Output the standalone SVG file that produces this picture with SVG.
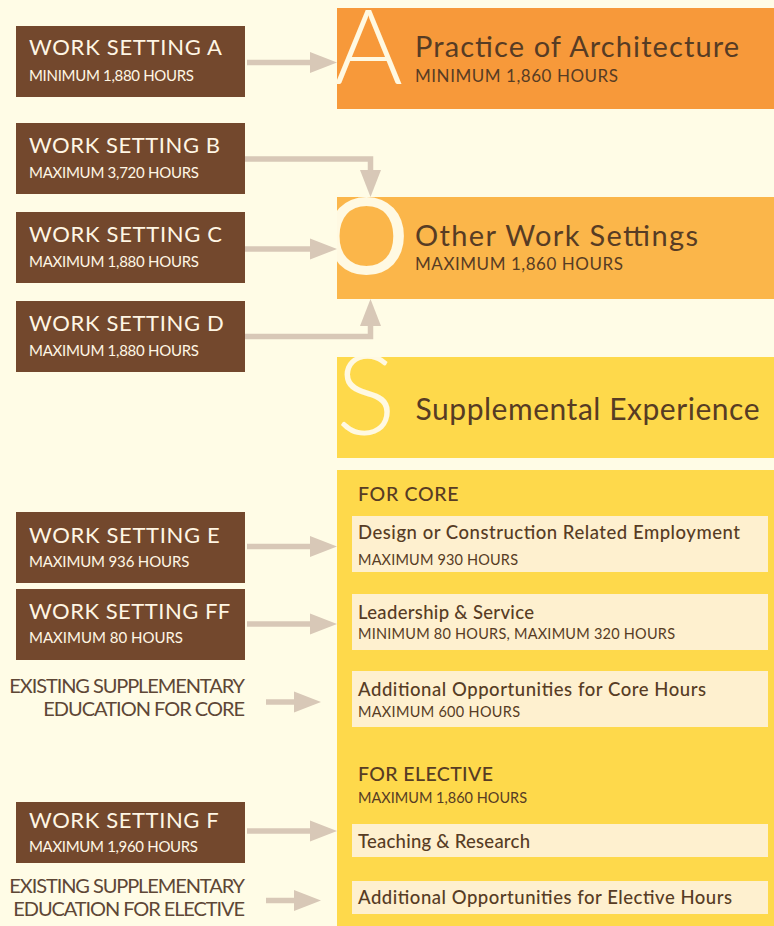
<svg xmlns="http://www.w3.org/2000/svg" width="774" height="926" viewBox="0 0 774 926">
<style>
text{font-family:Lato,"Open Sans","Liberation Sans",sans-serif}
.ws{fill:#73482D}
.wt{fill:#FFF6E4;font-size:22px}
.wsub{fill:#FFF6E4;font-size:15px}
.big{fill:#FFF9E2;font-size:112px;font-weight:300}
.ht{fill:#573C24;font-size:29px}
.hs{fill:#573C24;font-size:17px}
.lt{fill:#FEF0CF}
.lab{fill:#573C24;font-size:18.5px;font-weight:500}
.sub{fill:#573C24;font-size:14.5px}
.ex{fill:#5E4736;font-size:20px;text-anchor:end}
.conn{fill:none;stroke:#D8C8B7;stroke-width:5.5;marker-end:url(#ah)}
</style>
<defs>
<marker id="ah" markerUnits="userSpaceOnUse" markerWidth="28" markerHeight="22" viewBox="0 -11 28 22" refX="0" refY="0" orient="auto">
<path d="M0,-10.5 L27,0 L0,10.5 Z" fill="#D8C8B7"/>
</marker>
<clipPath id="clipO"><rect x="337" y="197" width="437" height="102"/></clipPath>
<clipPath id="clipS"><rect x="337" y="357" width="437" height="101"/></clipPath>
</defs>
<rect x="0" y="0" width="774" height="926" fill="#FFFCE6"/>

<g id="node-A">
<rect x="337" y="8" width="437" height="101" fill="#F7993A"/>
<text class="big" x="334" y="84" style="font-size:105px">A</text>
<text class="ht" x="415" y="57" textLength="324">Practice of Architecture</text>
<text class="hs" x="415" y="81.5" textLength="203">MINIMUM 1,860 HOURS</text>
</g>

<g id="node-O">
<rect x="337" y="197" width="437" height="102" fill="#FBB64A"/>
<text class="big" x="324" y="274" clip-path="url(#clipO)" style="font-weight:400;font-size:106px">O</text>
<text class="ht" x="415" y="246" textLength="283">Other Work Settings</text>
<text class="hs" x="415" y="270" textLength="208">MAXIMUM 1,860 HOURS</text>
</g>

<g id="node-S">
<rect x="337" y="357" width="437" height="101" fill="#FED94B"/>
<text class="big" x="336" y="435" clip-path="url(#clipS)">S</text>
<text class="ht" x="415.5" y="420" textLength="344" style="font-size:30px">Supplemental Experience</text>
</g>

<g id="node-supp">
<rect x="337" y="470" width="437" height="456" fill="#FED94B"/>
<text class="lab" x="358" y="500.5" textLength="100.5" style="font-size:19.5px">FOR CORE</text>
<text class="lab" x="358" y="780.5" textLength="135" style="font-size:19.5px">FOR ELECTIVE</text>
<text class="sub" x="358" y="803.3" textLength="169">MAXIMUM 1,860 HOURS</text>
</g>

<g id="node-design">
<rect class="lt" x="352" y="516" width="416" height="56"/>
<text class="lab" x="358" y="539.3" textLength="382">Design or Construction Related Employment</text>
<text class="sub" x="358" y="565" textLength="160">MAXIMUM 930 HOURS</text>
</g>
<g id="node-leadership">
<rect class="lt" x="352" y="594" width="416" height="56"/>
<text class="lab" x="358" y="619" textLength="176">Leadership &amp; Service</text>
<text class="sub" x="358" y="639.3" textLength="317">MINIMUM 80 HOURS, MAXIMUM 320 HOURS</text>
</g>
<g id="node-addcore">
<rect class="lt" x="352" y="671" width="416" height="56"/>
<text class="lab" x="358" y="695.7" textLength="348">Additional Opportunities for Core Hours</text>
<text class="sub" x="358" y="716.7" textLength="162">MAXIMUM 600 HOURS</text>
</g>
<g id="node-teaching">
<rect class="lt" x="352" y="824" width="416" height="33"/>
<text class="lab" x="358" y="848" textLength="172">Teaching &amp; Research</text>
</g>
<g id="node-addelective">
<rect class="lt" x="352" y="881" width="416" height="33"/>
<text class="lab" x="358" y="904" textLength="374">Additional Opportunities for Elective Hours</text>
</g>

<g id="ws-A">
<rect class="ws" x="16" y="26" width="229" height="71"/>
<text class="wt" x="29" y="55.3" textLength="193">WORK SETTING A</text>
<text class="wsub" x="29" y="81" textLength="165">MINIMUM 1,880 HOURS</text>
</g>
<g id="ws-B">
<rect class="ws" x="16" y="123" width="229" height="71"/>
<text class="wt" x="29" y="153.3" textLength="191">WORK SETTING B</text>
<text class="wsub" x="29" y="177.7" textLength="170">MAXIMUM 3,720 HOURS</text>
</g>
<g id="ws-C">
<rect class="ws" x="16" y="212" width="229" height="71"/>
<text class="wt" x="29" y="242.3" textLength="193">WORK SETTING C</text>
<text class="wsub" x="29" y="266.7" textLength="170">MAXIMUM 1,880 HOURS</text>
</g>
<g id="ws-D">
<rect class="ws" x="16" y="301" width="229" height="71"/>
<text class="wt" x="29" y="331.3" textLength="194.7">WORK SETTING D</text>
<text class="wsub" x="29" y="355.7" textLength="170">MAXIMUM 1,880 HOURS</text>
</g>
<g id="ws-E">
<rect class="ws" x="16" y="512" width="229" height="71"/>
<text class="wt" x="29" y="542.7" textLength="190.7">WORK SETTING E</text>
<text class="wsub" x="29" y="566.7" textLength="160.3">MAXIMUM 936 HOURS</text>
</g>
<g id="ws-FF">
<rect class="ws" x="16" y="589" width="229" height="71"/>
<text class="wt" x="29" y="619.3" textLength="201.3">WORK SETTING FF</text>
<text class="wsub" x="29" y="643.3" textLength="154">MAXIMUM 80 HOURS</text>
</g>
<g id="ws-F">
<rect class="ws" x="16" y="802" width="229" height="61"/>
<text class="wt" x="29" y="828.3" textLength="189.7">WORK SETTING F</text>
<text class="wsub" x="29" y="851.7" textLength="169">MAXIMUM 1,960 HOURS</text>
</g>

<g id="ex-core">
<text class="ex" x="245" y="692.7" textLength="235.7">EXISTING SUPPLEMENTARY</text>
<text class="ex" x="245" y="716" textLength="201.7">EDUCATION FOR CORE</text>
</g>
<g id="ex-elective">
<text class="ex" x="245" y="892.7" textLength="235.7">EXISTING SUPPLEMENTARY</text>
<text class="ex" x="245" y="915.7" textLength="231.7">EDUCATION FOR ELECTIVE</text>
</g>

<g id="connectors">
<path class="conn" d="M247,62.5 H310"/>
<path class="conn" d="M245,159 H370.5 V170"/>
<path class="conn" d="M245,249 H310"/>
<path class="conn" d="M245,336.5 H370.5 V326"/>
<path class="conn" d="M247,546.5 H310"/>
<path class="conn" d="M247,624 H310"/>
<path class="conn" d="M266,702 H294"/>
<path class="conn" d="M247,831 H310"/>
<path class="conn" d="M266,900.5 H294"/>
</g>
</svg>
